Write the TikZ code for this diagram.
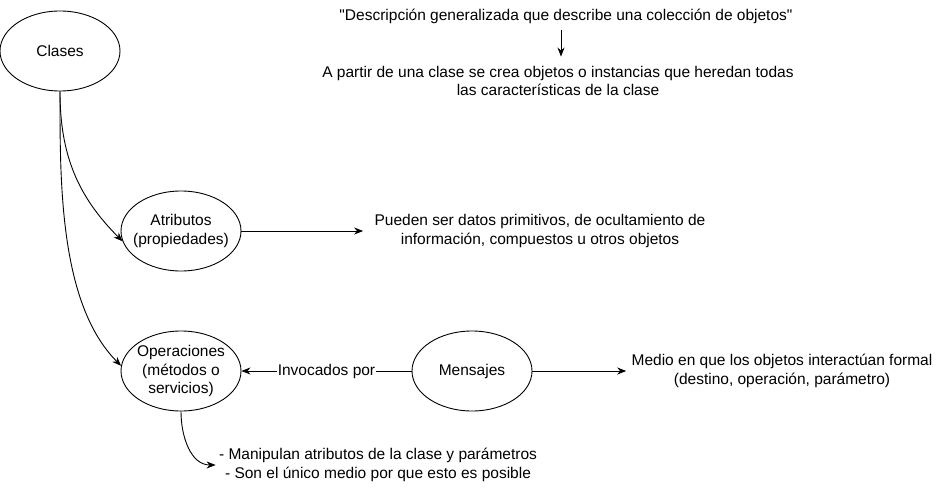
\documentclass[tikz,border=0pt]{standalone}
\usepackage{fontspec}
\setmainfont{Liberation Sans}[Ligatures=TeXOff]
\usetikzlibrary{shapes.geometric,arrows.meta}

\begin{document}
\begin{tikzpicture}[x=1pt,y=1pt,line width=0.9pt,
  font=\fontsize{15.5}{18.6}\selectfont,
  elipse/.style={draw,ellipse,minimum width=120pt,minimum height=80pt,inner xsep=-8pt,inner ysep=0pt,align=center},
  texto/.style={align=center,inner sep=1pt},
  flecha/.style={-{Stealth[length=9pt,width=7pt]}}]
      \useasboundingbox (0,0) rectangle (939,488);
      % nodos
      \node[elipse] (clases) at (60,437) {Clases};
      \node[elipse] (atrib) at (181,257) {Atributos\\(propiedades)};
      \node[elipse] (oper) at (181,117) {Operaciones\\(métodos o\\servicios)};
      \node[elipse] (mens) at (472,117) {Mensajes};
      \node[texto] (desc) at (566,472) {"Descripción generalizada que describe una colección de objetos"};
      \node[texto] (hered) at (558,407) {A partir de una clase se crea objetos o instancias que heredan todas\\las características de la clase};
      \node[texto] (pueden) at (540,257) {Pueden ser datos primitivos, de ocultamiento de\\información, compuestos u otros objetos};
      \node[texto] (medio) at (782,117) {Medio en que los objetos interactúan formal\\(destino, operación, parámetro)};
      \node[texto] (manip) at (378,23) {- Manipulan atributos de la clase y parámetros\\- Son el único medio por que esto es posible};
      % conectores
      \draw[flecha] ([xshift=-5pt,yshift=-5pt]desc.south) -- ([xshift=-5pt,yshift=8pt]desc.south |- hered.north);
      \draw[flecha] (clases.south) to[out=-90,in=135] (atrib.190);
      \draw[flecha] (clases.south) to[out=-90,in=135,looseness=0.8] (oper.175);
      \draw[flecha] (atrib.east) -- ([xshift=-10pt]pueden.west);
      \draw[flecha] (mens.west) -- node[fill=white,inner sep=1pt] {Invocados por} (oper.east);
      \draw[flecha] (mens.east) -- ([xshift=-4pt]medio.west);
      \draw[flecha] (oper.south) to[out=-90,in=180] ([xshift=-2pt]manip.west);
\end{tikzpicture}
\end{document}
